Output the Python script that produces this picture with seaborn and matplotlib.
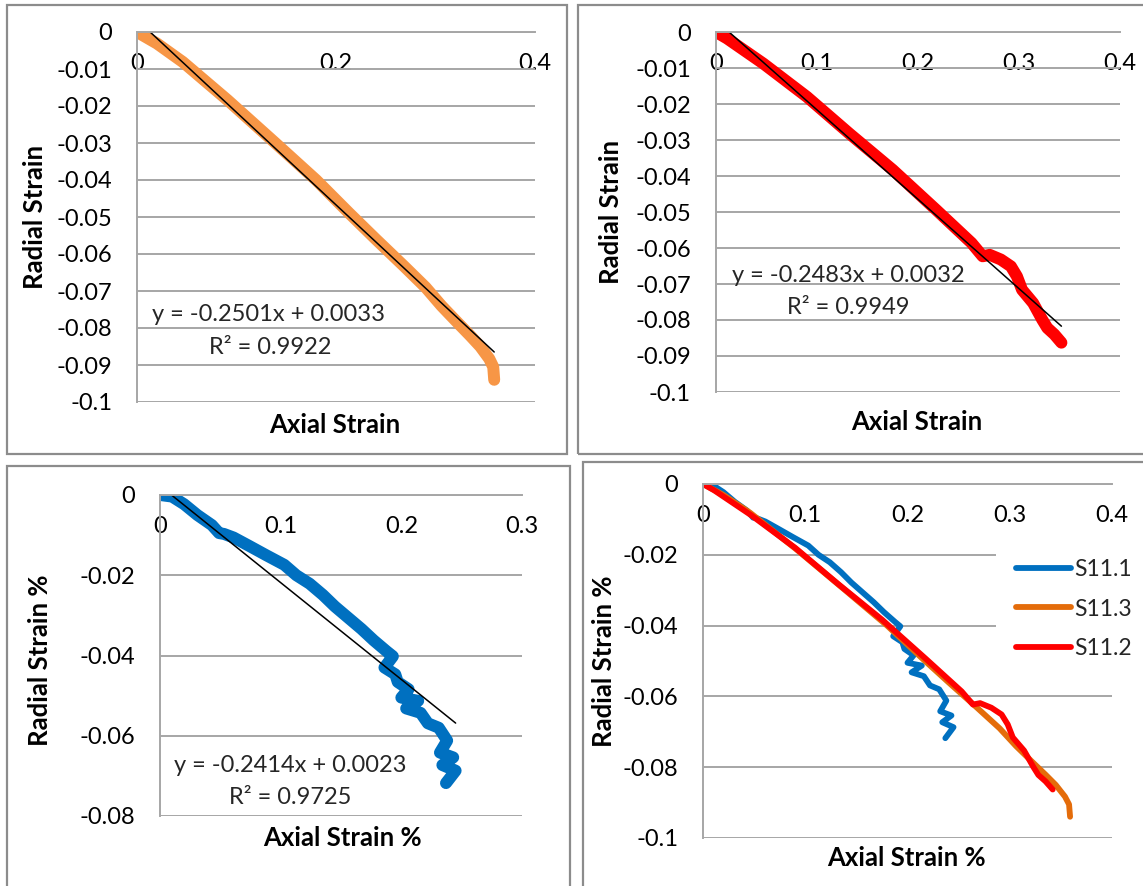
import numpy as np
import pandas as pd
import matplotlib
matplotlib.use("Agg")
import matplotlib.pyplot as plt
import seaborn as sns
from matplotlib.patches import Rectangle
from matplotlib.ticker import FuncFormatter

# ---------------- data ----------------
s11_1_x = [0, 0.010, 0.020, 0.031, 0.043, 0.049, 0.053, 0.061, 0.074, 0.088, 0.103, 0.113,
           0.124, 0.135, 0.145, 0.156, 0.167, 0.177, 0.188, 0.193, 0.186, 0.195, 0.197,
           0.206, 0.200, 0.214, 0.204, 0.216, 0.222, 0.231, 0.238, 0.232, 0.243, 0.234,
           0.245, 0.237]
s11_1_y = [0, -0.0004, -0.0023, -0.0050, -0.0075, -0.0095, -0.0097, -0.0106, -0.0127,
           -0.0150, -0.0174, -0.0200, -0.0221, -0.0249, -0.0278, -0.0306, -0.0334, -0.0362,
           -0.0390, -0.0402, -0.0430, -0.0447, -0.0466, -0.0484, -0.0505, -0.0513, -0.0532,
           -0.0543, -0.0569, -0.0580, -0.0612, -0.0642, -0.0654, -0.0673, -0.0687, -0.0718]

s11_3_x = [0, 0.020, 0.046, 0.091, 0.139, 0.180, 0.213, 0.240, 0.268, 0.290, 0.306, 0.322,
           0.335, 0.345, 0.354, 0.358, 0.359]
s11_3_y = [0, -0.0031, -0.0081, -0.0184, -0.0300, -0.0400, -0.0489, -0.0560, -0.0632,
           -0.0690, -0.0740, -0.0785, -0.0821, -0.0850, -0.0883, -0.0905, -0.0940]

s11_2_x = [0, 0.011, 0.047, 0.090, 0.132, 0.175, 0.218, 0.253, 0.264, 0.271, 0.282, 0.292,
           0.298, 0.303, 0.314, 0.323, 0.328, 0.335, 0.342]
s11_2_y = [0, -0.0018, -0.0088, -0.0180, -0.0282, -0.0383, -0.0494, -0.0586, -0.0623,
           -0.0619, -0.0632, -0.0651, -0.0679, -0.0716, -0.0753, -0.0799, -0.0822, -0.0840,
           -0.0863]

# linear trendlines shown on the chart: (slope, intercept, R^2)
trend_s11_3 = (-0.2501, 0.0033, 0.9922)
trend_s11_2 = (-0.2483, 0.0032, 0.9949)
trend_s11_1 = (-0.2414, 0.0023, 0.9725)

series_names = ["S11.1", "S11.3", "S11.2"]

# ---------------- style ----------------
sns.set_theme(style="white")
plt.rcParams["font.family"] = ["Lato", "DejaVu Sans"]

W, H = 1143, 886
fig = plt.figure(figsize=(W / 100, H / 100), dpi=100)
fig.patch.set_facecolor("white")

GRID = "#a6a6a6"
BORDER = "#8c8c8c"
FS = 17          # tick labels / equations
FS_LAB = 18.5    # axis titles
FS_LEG = 16.5

blue, orange_light, orange_dark, red = "#0070C0", "#F79646", "#E46C0A", "#FF0000"


def add_ax(box):
    x0, x1, yt, yb = box
    return fig.add_axes([x0 / W, 1 - yb / H, (x1 - x0) / W, (yb - yt) / H])


def border(x0, y0, x1, y1):
    fig.add_artist(Rectangle((x0 / W, 1 - y1 / H), (x1 - x0) / W, (y1 - y0) / H,
                             transform=fig.transFigure, fill=False, ec=BORDER, lw=1.6))


def fmt(v, p):
    v = round(v, 6)
    if abs(v) < 1e-12:
        return "0"
    return f"{v:g}"


def style(ax, box, xmax, xstep, ymin, ystep, xlabel, ylabel, xl_px, yl_px):
    x0, x1, yt, yb = box
    ax.set_xlim(0, xmax)
    ax.set_ylim(ymin, 0)
    ax.set_xticks(np.round(np.arange(0, xmax + 1e-9, xstep), 4))
    ax.set_yticks(np.round(np.arange(ymin, 1e-9, ystep), 4))
    ax.xaxis.set_major_formatter(FuncFormatter(fmt))
    ax.yaxis.set_major_formatter(FuncFormatter(fmt))
    for s in ["top", "right"]:
        ax.spines[s].set_visible(False)
    ax.spines["bottom"].set_position(("data", 0))
    for s in ["bottom", "left"]:
        ax.spines[s].set_color(GRID)
        ax.spines[s].set_linewidth(1.4)
    ax.yaxis.grid(True, color=GRID, lw=1.4)
    ax.xaxis.grid(False)
    ax.set_axisbelow(True)
    ax.tick_params(axis="both", length=0, labelsize=FS, colors="black")
    ax.tick_params(axis="x", pad=15)
    ax.tick_params(axis="y", pad=18)
    ax.set_xlabel(xlabel, fontsize=FS_LAB, fontweight="bold", color="black")
    ax.set_ylabel(ylabel, fontsize=FS_LAB, fontweight="bold", color="black")
    ax.xaxis.set_label_coords((xl_px[0] - x0) / (x1 - x0), (yb - xl_px[1]) / (yb - yt))
    ax.yaxis.set_label_coords((yl_px[0] - x0) / (x1 - x0), (yb - yl_px[1]) / (yb - yt))
    ax.xaxis.label.set_verticalalignment("center")
    ax.yaxis.label.set_verticalalignment("center")
    ax.set_facecolor("white")


def trend(ax, xs, coef):
    m, b, _ = coef
    tx = np.array([0, max(xs)])
    sns.lineplot(x=tx, y=m * tx + b, color="black", lw=1.1, ax=ax, sort=False,
                 estimator=None)


def eq_text(coef, p1, p2):
    m, b, r2 = coef
    fig.text(p1[0] / W, 1 - p1[1] / H, f"y = {m:.4f}x + {b:.4f}", ha="center",
             va="center", fontsize=FS)
    fig.text(p2[0] / W, 1 - p2[1] / H, f"R² = {r2:.4f}", ha="center", va="center",
             fontsize=FS)


line_kw = dict(sort=False, estimator=None, solid_capstyle="round", solid_joinstyle="round")
THICK = 8.6
THIN = 4.2

# panel borders
border(7, 5, 567, 454)
border(578, 5, 1160, 454)
border(7, 466, 570, 900)
border(583, 462, 1160, 900)

# ---------- panel 1 ----------
b1 = (137, 535, 32, 402)
ax1 = add_ax(b1)
sns.lineplot(x=s11_3_x, y=s11_3_y, color=orange_light, lw=THICK, ax=ax1, **line_kw)
trend(ax1, s11_3_x, trend_s11_3)
style(ax1, b1, 0.4, 0.2, -0.1, 0.01, "Axial Strain", "Radial Strain", (335, 425), (35, 217))
eq_text(trend_s11_3, (269, 315), (270, 347))

# ---------- panel 2 ----------
b2 = (716, 1120, 32, 392)
ax2 = add_ax(b2)
sns.lineplot(x=s11_2_x, y=s11_2_y, color=red, lw=THICK, ax=ax2, **line_kw)
trend(ax2, s11_2_x, trend_s11_2)
style(ax2, b2, 0.4, 0.1, -0.1, 0.01, "Axial Strain", "Radial Strain", (917, 422), (611, 212))
eq_text(trend_s11_2, (848, 276), (848, 308))

# ---------- panel 3 ----------
b3 = (160, 522, 495, 816)
ax3 = add_ax(b3)
sns.lineplot(x=s11_1_x, y=s11_1_y, color=blue, lw=THICK, ax=ax3, **line_kw)
trend(ax3, s11_1_x, trend_s11_1)
style(ax3, b3, 0.3, 0.1, -0.08, 0.02, "Axial Strain %", "Radial Strain %", (342, 838), (40, 660))
eq_text(trend_s11_1, (290, 765), (290, 798))

# ---------- panel 4 ----------
b4 = (703, 1112, 484, 838)
ax4 = add_ax(b4)
df = pd.concat([
    pd.DataFrame({"x": s11_1_x, "y": s11_1_y, "series": "S11.1"}),
    pd.DataFrame({"x": s11_3_x, "y": s11_3_y, "series": "S11.3"}),
    pd.DataFrame({"x": s11_2_x, "y": s11_2_y, "series": "S11.2"}),
], ignore_index=True)
sns.lineplot(data=df, x="x", y="y", hue="series", hue_order=series_names,
             palette={"S11.1": blue, "S11.3": orange_dark, "S11.2": red},
             lw=THIN, ax=ax4, **line_kw)
style(ax4, b4, 0.4, 0.1, -0.1, 0.02, "Axial Strain %", "Radial Strain %", (906, 858), (604, 661))
x0, x1, yt, yb = b4
leg = ax4.legend(loc="center left",
                 bbox_to_anchor=((985 - x0) / (x1 - x0), (yb - 609) / (yb - yt)),
                 fontsize=FS_LEG, frameon=True, facecolor="white", edgecolor="none",
                 framealpha=1, fancybox=False, borderpad=0.85, handlelength=2.4,
                 handletextpad=0.15, labelspacing=0.8, title=None)
for lh in leg.get_lines():
    lh.set_linewidth(THIN)
    lh.set_solid_capstyle("round")

fig.savefig("out.png", dpi=100, facecolor="white")
